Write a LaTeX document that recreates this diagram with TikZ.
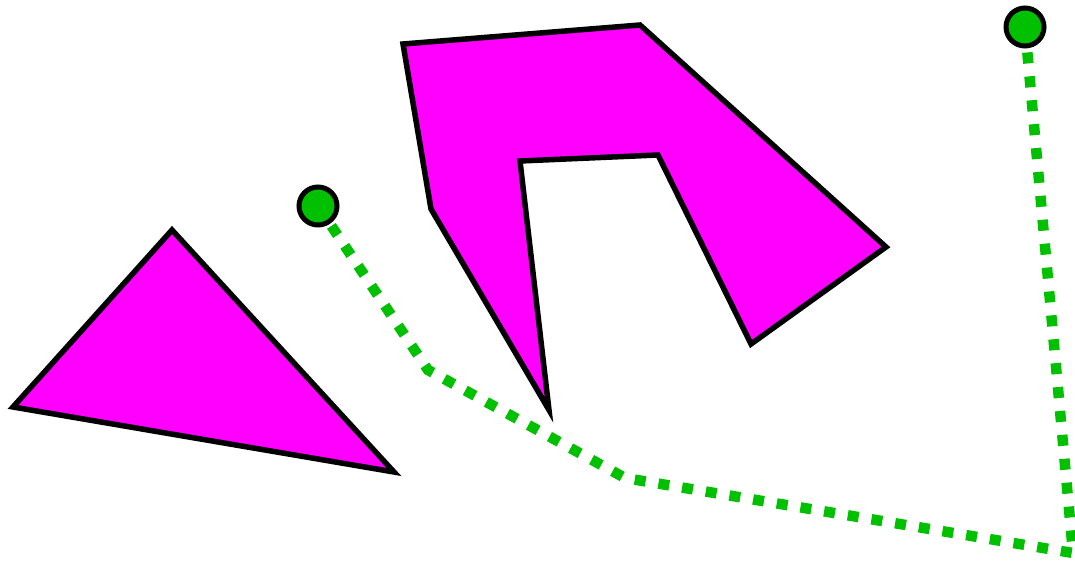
\documentclass[tikz,border=0pt]{standalone}
\definecolor{mag}{RGB}{255,0,255}
\definecolor{grn}{RGB}{0,192,0}
\tikzset{
  polyshape/.style={draw=black, fill=mag, line width=5.5pt, line join=miter},
  trail/.style={draw=grn, line width=10.5pt, dash pattern=on 11pt off 13pt},
  greendot/.style={circle, draw=black, fill=grn, line width=5pt, minimum size=38pt, inner sep=0pt}
}
\begin{document}
\begin{tikzpicture}[x=1pt,y=-1pt]
\useasboundingbox (0,0) rectangle (1075,561);
\path[polyshape] (172,230) -- (13,407) -- (394,472) -- cycle;
\path[polyshape] (403,44) -- (640,25) -- (886,247) -- (751,344) -- (658,155) -- (520,161) -- (549,410) -- (431,209) -- cycle;
\coordinate (p1) at (428,370);
\coordinate (p2) at (625,478);
\coordinate (p3) at (1073,553);
\coordinate (a) at (318,206);
\coordinate (b) at (1025,27);
\path[trail] (a) -- (p1) -- (p2) -- (p3) -- (b);
\node[greendot] (ca) at (a) {};
\node[greendot] (cb) at (b) {};
\end{tikzpicture}
\end{document}
